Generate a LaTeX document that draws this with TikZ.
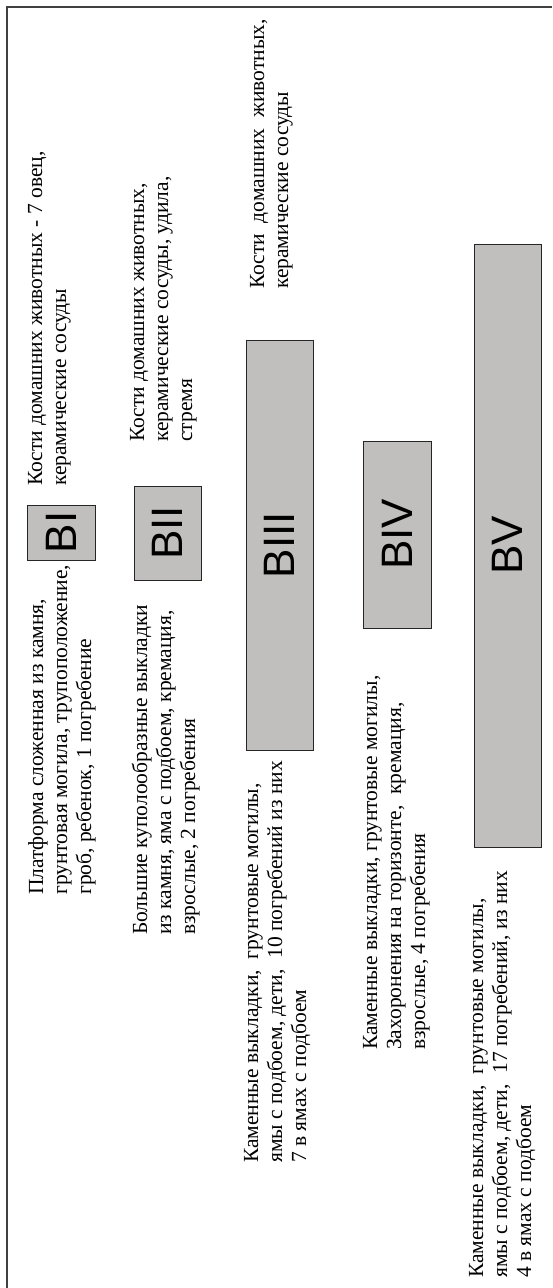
\documentclass[tikz,border=0pt]{standalone}
\usepackage{fontspec}
\setmainfont{Liberation Serif}
\setsansfont{Liberation Sans}
\usepackage{xcolor}
\usepackage{tikz}
\definecolor{stagegray}{RGB}{192,191,189}
\newcommand{\notelines}[1]{\begin{tabular}[t]{@{}l@{}}#1\end{tabular}}

\begin{document}
\begin{tikzpicture}[x=1pt, y=-1pt,
		stage/.style={draw=black!85, fill=stagegray, line width=0.8pt, rotate=90, inner sep=0pt, font=\sffamily\fontsize{44}{44}\selectfont},
		note/.style={rotate=90, anchor=base west, inner sep=0pt, font=\fontsize{21.5}{24}\selectfont}]
		\useasboundingbox (0,0) rectangle (552,1288);
		\draw[line width=1.6pt, black!75] (552,7) -- (7,7) -- (7,1288);

		\node[stage, minimum width=55pt, minimum height=68pt] (b1) at (61,532.5) {BI};
		\node[stage, minimum width=94pt, minimum height=67pt] (b2) at (167.5,533) {BII};
		\node[stage, minimum width=410pt, minimum height=67pt] (b3) at (279.5,545) {BIII};
		\node[stage, minimum width=187pt, minimum height=68pt] (b4) at (397,534.5) {BIV};
		\node[stage, minimum width=603pt, minimum height=67pt] (b5) at (507.5,545.5) {BV};

		\node[note] (t1) at (43,895) {\notelines{Платформа сложенная из камня,\\грунтовая могила, трупоположение,\\гроб, ребенок, 1 погребение}};
		\node[note] (t2) at (147,935) {\notelines{Большие куполообразные выкладки\\из камня, яма с подбоем, кремация,\\взрослые, 2 погребения}};
		\node[note] (t3) at (258,1163) {\notelines{Каменные выкладки,\ \ грунтовые могилы,\\ямы с подбоем, дети,\ \ 10 погребений из них\\7 в ямах с подбоем}};
		\node[note] (t4) at (377,1050) {\notelines{Каменные выкладки, грунтовые могилы,\\Захоронения на горизонте,\ \ кремация,\\взрослые, 4 погребения}};
		\node[note] (t5) at (483,1278) {\notelines{Каменные выкладки,\ \ грунтовые могилы,\\ямы с подбоем, дети,\ \ 17 погребений, из них\\4 в ямах с подбоем}};

		\node[note] (f1) at (42,486) {\notelines{Кости домашних животных - 7 овец,\\керамические сосуды}};
		\node[note] (f2) at (144,442) {\notelines{Кости домашних животных,\\керамические сосуды, удила,\\стремя}};
		\node[note] (f3) at (264,289) {\notelines{Кости\ \ домашних\ \ животных,\\керамические сосуды}};
	\end{tikzpicture}
\end{document}
